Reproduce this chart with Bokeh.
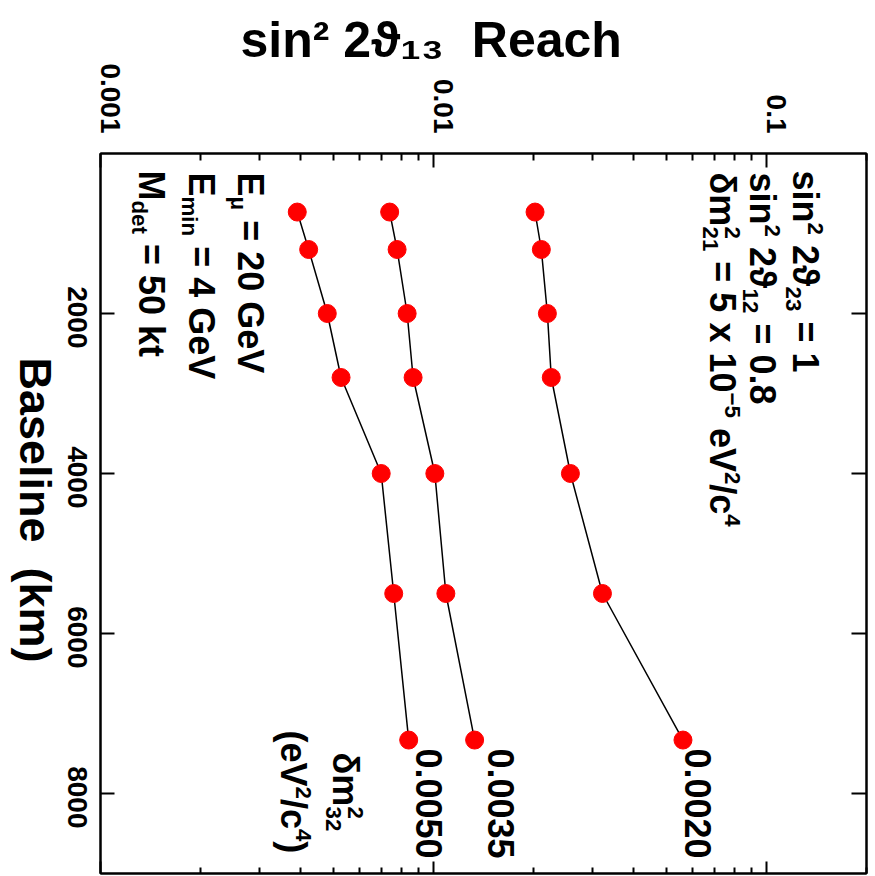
import math
from bokeh.plotting import figure
from bokeh.models import FixedTicker, LogAxis, LinearAxis, Label, Range1d, Title
from bokeh.embed import file_html
from bokeh.resources import INLINE

# ---------------- data ----------------
baseline_km = [732, 1200, 2000, 2800, 4000, 5500, 7332]
reach_dm2_0020 = [0.0202, 0.0211, 0.0220, 0.0226, 0.0258, 0.0322, 0.0562]
reach_dm2_0035 = [0.00739, 0.00778, 0.00834, 0.00869, 0.0101, 0.0109, 0.0133]
reach_dm2_0050 = [0.00390, 0.00422, 0.00480, 0.00528, 0.00697, 0.00760, 0.00843]
curve_names = ["0.0020", "0.0035", "0.0050"]
reach_major_ticks = [0.001, 0.01, 0.1]
reach_tick_labels = ["0.001", "0.01", "0.1"]
reach_minor_ticks = [0.002, 0.003, 0.004, 0.005, 0.006, 0.007, 0.008, 0.009,
                     0.02, 0.03, 0.04, 0.05, 0.06, 0.07, 0.08, 0.09, 0.2]
baseline_ticks = [2000, 4000, 6000, 8000]
baseline_tick_labels = ["2000", "4000", "6000", "8000"]
x_title = "sin\u00b2 2\u03d1\u2081\u2083\u00a0 Reach"
y_title = "Baseline\u00a0 (km)"

# ---------------- layout ----------------
W, H = 875, 876
FL, FR, FT, FB = 100, 866, 153, 873
SHIFT = 24          # extra canvas on the left, pulled back out of view by a negative margin
XR = (0.001, 0.2)
YR = (0, 9000)
FONT = "Liberation Sans"
PX_PER_KM = (FB - FT) / (YR[1] - YR[0])
PX_PER_DEC = (FR - FL) / (math.log10(XR[1]) - math.log10(XR[0]))

p = figure(width=W + SHIFT, height=H, x_axis_type="log",
           x_range=Range1d(*XR), y_range=Range1d(YR[1], YR[0]),
           x_axis_location="above",
           output_backend="svg", toolbar_location=None,
           min_border_left=FL + SHIFT, min_border_right=W - FR,
           min_border_top=FT, min_border_bottom=H - FB)
p.margin = (0, 0, 0, -SHIFT)
p.grid.visible = False
p.outline_line_color = "black"
p.outline_line_width = 2
p.background_fill_color = "white"
p.border_fill_color = "white"

reach_ticker = FixedTicker(ticks=reach_major_ticks, minor_ticks=reach_minor_ticks)
base_ticker = FixedTicker(ticks=baseline_ticks)


def tick_axis(ax, major_in, minor_in):
    ax.axis_line_color = "black"
    ax.axis_line_width = 2
    ax.major_tick_in = major_in
    ax.major_tick_out = 0
    ax.minor_tick_in = minor_in
    ax.minor_tick_out = 0
    ax.major_tick_line_width = 2
    ax.minor_tick_line_width = 2
    ax.major_tick_line_color = "black"
    ax.minor_tick_line_color = "black" if minor_in else None
    ax.major_label_text_font_size = "2px"
    ax.major_label_text_alpha = 0
    ax.major_label_standoff = 0
    ax.axis_label = None


def label_axis(ax, standoff, size="28px"):
    ax.axis_line_color = None
    ax.major_tick_line_color = None
    ax.minor_tick_line_color = None
    ax.major_tick_in = 0
    ax.major_tick_out = 0
    ax.minor_tick_in = 0
    ax.minor_tick_out = 0
    ax.major_label_text_font = FONT
    ax.major_label_text_font_style = "bold"
    ax.major_label_text_font_size = size
    ax.major_label_text_color = "black"
    ax.major_label_orientation = -math.pi / 2
    ax.major_label_standoff = standoff
    ax.axis_label = None


# tick-only axes on all four sides
top = p.xaxis[0]
top.ticker = reach_ticker
tick_axis(top, 14, 7)
left = p.yaxis[0]
left.ticker = base_ticker
tick_axis(left, 14, 0)
bottom = LogAxis(ticker=reach_ticker)
tick_axis(bottom, 12, 6)
p.add_layout(bottom, "below")
right = LinearAxis(ticker=base_ticker)
tick_axis(right, 15, 0)
p.add_layout(right, "right")

# label axes (rotated labels, nudged to sit where the reference puts them)
TOP_NUDGE = 10 ** (10 / PX_PER_DEC)
top_pos = [t * TOP_NUDGE for t in reach_major_ticks]
top_lab = LogAxis(ticker=FixedTicker(ticks=top_pos, minor_ticks=[]),
                  major_label_overrides={v: l for v, l in zip(top_pos, reach_tick_labels)})
label_axis(top_lab, 20)
p.add_layout(top_lab, "above")

LEFT_NUDGE = 35 / PX_PER_KM
left_pos = [t + LEFT_NUDGE for t in baseline_ticks]
left_lab = LinearAxis(ticker=FixedTicker(ticks=left_pos, minor_ticks=[]),
                      major_label_overrides={v: l for v, l in zip(left_pos, baseline_tick_labels)})
label_axis(left_lab, 23, "28px")
p.add_layout(left_lab, "left")

# "Baseline (km)" as a single rotated label on an outer axis (reads top-to-bottom)
ytitle_pos = [(662 - FT) / PX_PER_KM]
ytitle_ax = LinearAxis(ticker=FixedTicker(ticks=ytitle_pos, minor_ticks=[]),
                       major_label_overrides={ytitle_pos[0]: y_title})
label_axis(ytitle_ax, 20, "45px")
p.add_layout(ytitle_ax, "left")

title = Title(text=x_title, align="left", offset=140,
              text_font=FONT, text_font_style="bold", text_font_size="50px",
              text_color="black", standoff=0)
try:
    title.standoff = -14
except Exception:
    pass
p.add_layout(title, "above")

# ---------------- marks ----------------
for reach in (reach_dm2_0020, reach_dm2_0035, reach_dm2_0050):
    p.line(reach, baseline_km, line_color="black", line_width=1.5)
    p.scatter(reach, baseline_km, marker="circle", size=18,
              fill_color="red", line_color="red")

# ---------------- text helpers (page pixel -> data for annotations) ----------------
LX0 = math.log10(XR[0])


def sx(px):
    return 10 ** (LX0 + (px - FL) / PX_PER_DEC)


def sy(py):
    return YR[0] + (py - FT) / PX_PER_KM


WID = {' ': 278, '(': 333, ')': 333, '.': 278, '/': 278, '=': 584, '-': 333,
       '−': 584, 'x': 556, 'B': 722, 'E': 667, 'G': 778, 'M': 833, 'R': 722,
       'V': 667, 'a': 556, 'c': 556, 'd': 611, 'e': 556, 'h': 611, 'i': 278,
       'k': 556, 'l': 278, 'm': 889, 'n': 611, 's': 556, 't': 333, 'μ': 611,
       'δ': 611, 'ϑ': 600}


def tw(s, size):
    return sum(WID.get(c, 556) for c in s) / 1000.0 * size


def put(text, base, pos, size):
    # vertical text reading top-to-bottom; `base` = glyph baseline (screen x)
    p.add_layout(Label(x=sx(base + 0.33 * size), y=sy(pos), text=text, angle=-math.pi / 2,
                       text_font=FONT, text_font_style="bold",
                       text_font_size=f"{size:.1f}px", text_color="black",
                       text_align="left", text_baseline="alphabetic"))


def rich(segments, base, start, size):
    """segments: (text,'n'|'sup'|'sub') or ('supsub', sup, sub)."""
    small = 0.62 * size
    pos = start
    for seg in segments:
        if seg[0] == 'supsub':
            parts = [(seg[1], 'sup'), (seg[2], 'sub')]
            adv = max(tw(seg[1], small), tw(seg[2], small))
            lead = 0
        else:
            sz = size if seg[1] == 'n' else small
            stripped = seg[0].lstrip(' ')
            lead = tw(seg[0][:len(seg[0]) - len(stripped)], sz)
            parts = [(stripped, seg[1])]
            adv = tw(stripped, sz)
        pos += lead
        for text, kind in parts:
            sz = size if kind == 'n' else small
            shift = {'n': 0, 'sup': 0.42 * size, 'sub': -0.2 * size}[kind]
            put(text, base + shift, pos, sz)
        pos += adv


S = 36
# parameter block (upper right)
rich([("sin", 'n'), ("2", 'sup'), (" 2ϑ", 'n'), ("23", 'sub'), (" = 1", 'n')], 793, 170, S)
rich([("sin", 'n'), ("2", 'sup'), (" 2ϑ", 'n'), ("12", 'sub'), (" = 0.8", 'n')], 750, 172, S)
rich([("δm", 'n'), ('supsub', "2", "21"), (" = 5 x 10", 'n'), ("−5", 'sup'),
      (" eV", 'n'), ("2", 'sup'), ("/c", 'n'), ("4", 'sup')], 710, 172, S)

# beam / detector block (upper left)
rich([("E", 'n'), ("μ", 'sub'), (" = 20 GeV", 'n')], 238, 172, S)
rich([("E", 'n'), ("min", 'sub'), (" = 4 GeV", 'n')], 189, 172, S)
rich([("M", 'n'), ("det", 'sub'), (" = 50 kt", 'n')], 139, 170, S)

# curve labels (delta m^2_32 values) at the end of each curve
end_label_base = {"0.0020": 686, "0.0035": 489, "0.0050": 417}
for name in curve_names:
    rich([(name, 'n')], end_label_base[name], 748, S)

rich([("δm", 'n'), ('supsub', "2", "32")], 333, 752, S)
rich([("(eV", 'n'), ("2", 'sup'), ("/c", 'n'), ("4", 'sup'), (")", 'n')], 281, 730, S)

open("out.html", "w").write(file_html(p, INLINE))
